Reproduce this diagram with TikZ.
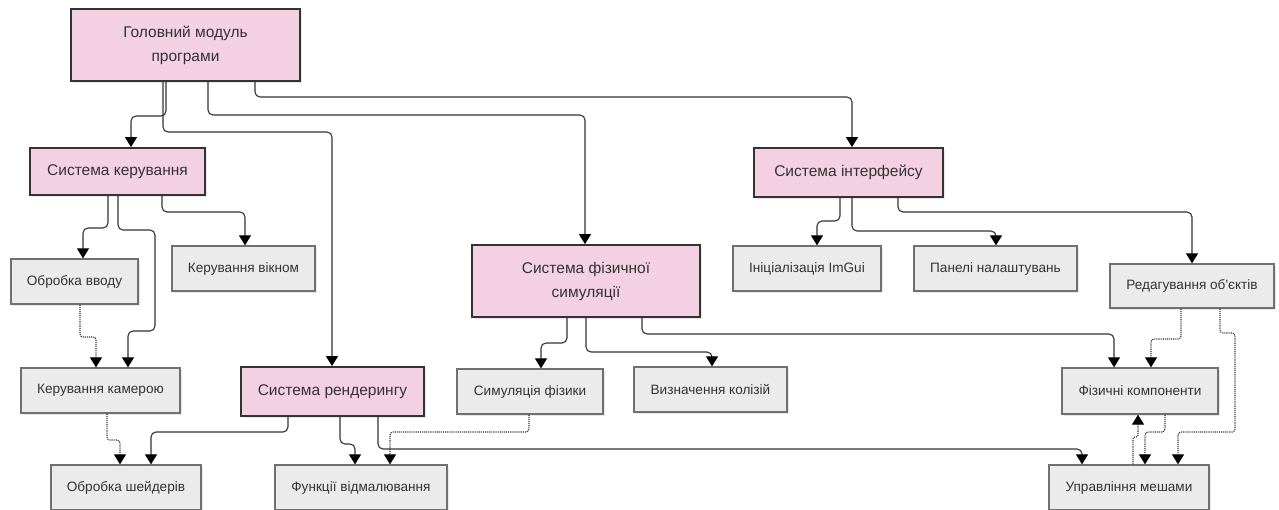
\documentclass[tikz,border=0pt]{standalone}
\usepackage{fontspec}
\setmainfont{Liberation Sans}
\usetikzlibrary{arrows.meta,shadows}
\definecolor{pinkfill}{HTML}{F3D1E3}
\definecolor{grayfill}{HTML}{EBEBEB}
\definecolor{linec}{HTML}{333333}
\definecolor{grayline}{HTML}{707070}
\begin{document}
\begin{tikzpicture}[x=1pt,y=-1pt,
  shad/.style={drop shadow={opacity=0.18,shadow xshift=1.5pt,shadow yshift=-1.5pt}},
  pinkbox/.style={draw=linec, line width=1.8pt, fill=pinkfill, text=linec, align=center,
    font=\fontsize{15.5}{24}\selectfont, inner sep=0pt, shad},
  graybox/.style={draw=grayline, line width=1.3pt, fill=grayfill, text=linec,
    font=\fontsize{13.6}{16}\selectfont, inner sep=0pt, shad},
  conn/.style={draw=linec, line width=1.1pt, rounded corners=5pt, -{Triangle[width=12pt,length=10pt,color=black]}},
  dconn/.style={conn, densely dotted, line width=1.1pt, rounded corners=3pt}]
\useasboundingbox (0,0) rectangle (1279,509);

% nodes
\node[pinkbox, minimum width=229pt, minimum height=72pt] (main) at (185.5,45) {Головний модуль\\програми};
\node[pinkbox, minimum width=175pt, minimum height=47pt] (ker) at (117.5,171.5) {Система керування};
\node[graybox, minimum width=127pt, minimum height=45pt] (vvod) at (74.5,281.5) {Обробка вводу};
\node[graybox, minimum width=143pt, minimum height=45pt] (vikno) at (243.5,268.5) {Керування вікном};
\node[graybox, minimum width=159pt, minimum height=45pt] (kamera) at (100.5,390.5) {Керування камерою};
\node[pinkbox, minimum width=183pt, minimum height=49pt] (render) at (332.5,391.5) {Система рендерингу};
\node[graybox, minimum width=150pt, minimum height=45pt] (shaders) at (126,487.5) {Обробка шейдерів};
\node[graybox, minimum width=172pt, minimum height=45pt] (funcs) at (361,487.5) {Функції відмалювання};
\node[pinkbox, minimum width=228pt, minimum height=72pt] (phys) at (586,281) {Система фізичної\\симуляції};
\node[graybox, minimum width=146pt, minimum height=45pt] (sim) at (530,391.5) {Симуляція фізики};
\node[graybox, minimum width=153pt, minimum height=45pt] (col) at (710.5,389.5) {Визначення колізій};
\node[pinkbox, minimum width=189pt, minimum height=49pt] (ui) at (848.5,172.5) {Система інтерфейсу};
\node[graybox, minimum width=148pt, minimum height=45pt] (imgui) at (807,268.5) {Ініціалізація ImGui};
\node[graybox, minimum width=163pt, minimum height=45pt] (panels) at (995.5,268.5) {Панелі налаштувань};
\node[graybox, minimum width=164pt, minimum height=44pt] (edit) at (1192,286) {Редагування об\textquotesingle єктів};
\node[graybox, minimum width=156pt, minimum height=46pt] (physcomp) at (1140,391) {Фізичні компоненти};
\node[graybox, minimum width=160pt, minimum height=45pt] (mesh) at (1129,487.5) {Управління мешами};

% connectors
\draw[conn] (166,0 |- main.south) -- (166,116) -| (131,0 |- ker.north);
\draw[conn] (163,0 |- main.south) -- (163,132) -| (332,0 |- render.north);
\draw[conn] (208,0 |- main.south) -- (208,115) -| (585,0 |- phys.north);
\draw[conn] (255,0 |- main.south) -- (255,97) -| (852,0 |- ui.north);

\draw[conn] (108,0 |- ker.south) -- (108,228) -| (83,0 |- vvod.north);
\draw[conn] (118,0 |- ker.south) -- (118,230) -- (155,230) -- (155,331) -- (128,331) -- (128,0 |- kamera.north);
\draw[conn] (162,0 |- ker.south) -- (162,212) -| (245,0 |- vikno.north);
\draw[dconn] (80,0 |- vvod.south) -- (80,337) -| (96,0 |- kamera.north);
\draw[dconn] (107,0 |- kamera.south) -- (107,440) -| (120,0 |- shaders.north);

\draw[conn] (288,0 |- render.south) -- (288,432) -| (151,0 |- shaders.north);
\draw[conn] (340,0 |- render.south) -- (340,444) -| (355,0 |- funcs.north);
\draw[conn] (378,0 |- render.south) -- (378,449) -| (1082,0 |- mesh.north);
\draw[dconn] (529,0 |- sim.south) -- (529,432) -| (390,0 |- funcs.north);

\draw[conn] (567,0 |- phys.south) -- (567,343) -| (541,0 |- sim.north);
\draw[conn] (586,0 |- phys.south) -- (586,352) -| (712,0 |- col.north);
\draw[conn] (642,0 |- phys.south) -- (642,334) -| (1114,0 |- physcomp.north);

\draw[conn] (840,0 |- ui.south) -- (840,221) -| (817,0 |- imgui.north);
\draw[conn] (852,0 |- ui.south) -- (852,231) -| (996,0 |- panels.north);
\draw[conn] (898,0 |- ui.south) -- (898,212) -| (1192,0 |- edit.north);

\draw[dconn] (1181,0 |- edit.south) -- (1181,339) -| (1151,0 |- physcomp.north);
\draw[dconn] (1220,0 |- edit.south) -- (1220,333) -- (1235,333) -- (1235,432) -- (1178,432) -- (1178,0 |- mesh.north);
\draw[dconn] (1165,0 |- physcomp.south) -- (1165,432) -| (1145,0 |- mesh.north);
\draw[dconn, rounded corners=2pt] (1133,0 |- mesh.north) -- (1133,437) -| (1138,0 |- physcomp.south);
\end{tikzpicture}
\end{document}
